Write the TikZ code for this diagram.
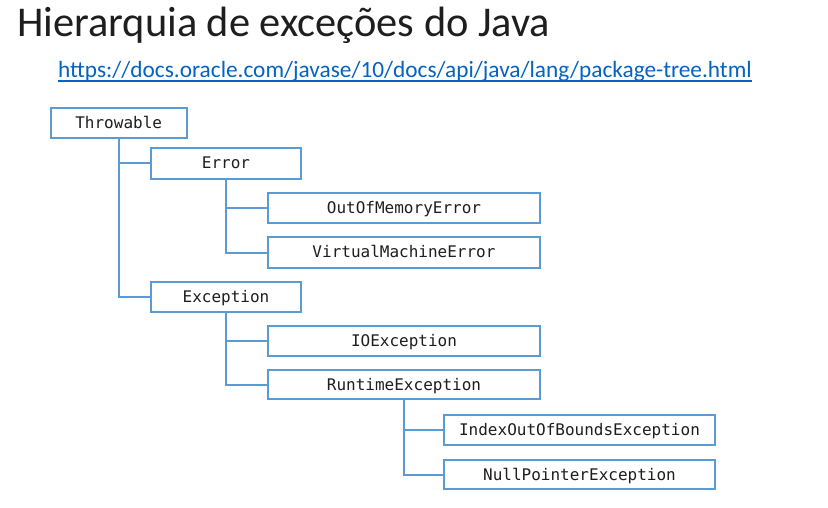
\documentclass[tikz,border=0pt]{standalone}
\usepackage{fontspec}
\setmainfont{Carlito}
\setmonofont{DejaVu Sans Mono}
\definecolor{boxblue}{HTML}{5B9BD5}
\definecolor{linkblue}{HTML}{0563C1}
\definecolor{txt}{HTML}{1E1E1E}
\begin{document}
\begin{tikzpicture}[x=1pt,y=-1pt,
  cls/.style={draw=boxblue,line width=2pt,fill=white,inner sep=0pt,
    minimum height=30pt,text=txt,font=\fontsize{16}{18}\ttfamily,text depth=0pt,text height=11pt},
  link/.style={draw=boxblue,line width=2pt},
]
\useasboundingbox[fill=white] (0,0) rectangle (828,508);
\node[anchor=base west,inner sep=0pt,text=txt,font=\fontsize{42.4}{50}\selectfont] (title) at (17,37) {Hierarquia de exceções do Java};
\node[anchor=base west,inner sep=0pt,text=linkblue,font=\fontsize{23.3}{27}\selectfont] (url) at (58,78) {https://docs.oracle.com/javase/10/docs/api/java/lang/package-tree.html};
\draw[linkblue,line width=1.3pt] ([yshift=-3pt]url.base west) -- ([yshift=-3pt]url.base east);

\node[cls,minimum width=136pt] (thr) at (118.7,123) {Throwable};
\node[cls,minimum width=150pt,minimum height=31pt] (err) at (226,163.5) {Error};
\node[cls,minimum width=272pt] (oom) at (404,208) {OutOfMemoryError};
\node[cls,minimum width=272pt,minimum height=31pt] (vme) at (404,252.5) {VirtualMachineError};
\node[cls,minimum width=150pt] (exc) at (226,297) {Exception};
\node[cls,minimum width=272pt] (ioe) at (404,341) {IOException};
\node[cls,minimum width=272pt,minimum height=29pt] (rte) at (404,384.5) {RuntimeException};
\node[cls,minimum width=271pt] (ioobe) at (579.5,430) {IndexOutOfBoundsException};
\node[cls,minimum width=271pt,minimum height=29pt] (npe) at (579.5,474.5) {NullPointerException};

\draw[link] (thr.south) |- (err.west);
\draw[link] (thr.south) |- (exc.west);
\draw[link] (err.south) |- (oom.west);
\draw[link] (err.south) |- (vme.west);
\draw[link] (exc.south) |- (ioe.west);
\draw[link] (exc.south) |- (rte.west);
\draw[link] (rte.south) |- (ioobe.west);
\draw[link] (rte.south) |- (npe.west);
\end{tikzpicture}
\end{document}
